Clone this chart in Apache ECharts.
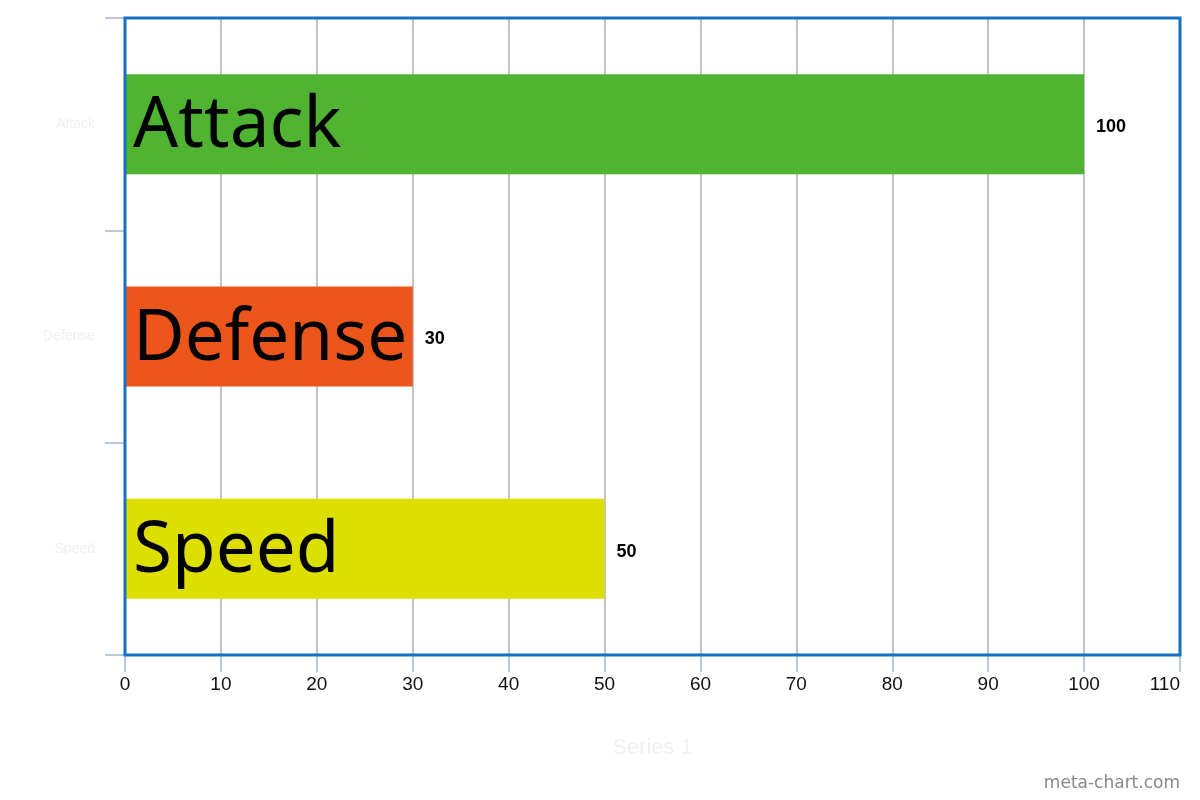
<!DOCTYPE html>
<html>
<head>
<meta charset="utf-8">
<script src="https://cdn.jsdelivr.net/npm/echarts@6/dist/echarts.min.js"></script>
<style>html,body{margin:0;padding:0;background:#fff}#c{width:1200px;height:800px}</style>
</head>
<body>
<div id="c"></div>
<script>
const categories = ['Attack', 'Defense', 'Speed'];
const values = [100, 30, 50];
const barColors = ['#50B432', '#ED561B', '#DDDF00'];
const xTicks = [0, 10, 20, 30, 40, 50, 60, 70, 80, 90, 100, 110];
const axisTitle = 'Series 1';
const watermark = 'meta-chart.com';

const chart = echarts.init(document.getElementById('c'));
chart.setOption({
  animation: false,
  grid: { left: 125, right: 20, top: 18, bottom: 145, show: true, borderColor: '#1670c4', borderWidth: 3, backgroundColor: 'transparent', z: 10 },
  xAxis: {
    type: 'value', min: xTicks[0], max: xTicks[xTicks.length - 1], interval: 10,
    name: axisTitle, nameLocation: 'middle', nameGap: 82,
    nameTextStyle: { color: '#f0f0f0', fontSize: 22, fontFamily: 'Liberation Sans' },
    axisLine: { show: false },
    axisTick: { show: true, length: 17, lineStyle: { color: '#b6c9e0', width: 2 } },
    axisLabel: { color: '#111', fontSize: 19, fontFamily: 'Liberation Sans', margin: 20, alignMaxLabel: 'right' },
    splitLine: { show: true, showMinLine: false, showMaxLine: false, lineStyle: { color: '#c4c4c4', width: 2 } }
  },
  yAxis: {
    type: 'category', data: categories, inverse: true,
    axisLine: { show: false },
    axisTick: { show: true, length: 20, lineStyle: { color: '#b6c9e0', width: 2 } },
    axisLabel: { color: '#f0f0f0', fontSize: 14, fontFamily: 'Liberation Sans', margin: 30 },
    splitLine: { show: false }
  },
  series: [
    {
      type: 'bar', barWidth: 100, z: 2,
      data: values.map((v, i) => ({ value: v, itemStyle: { color: barColors[i] } })),
      label: { show: true, position: 'right', distance: 12, offset: [0, 3], color: '#000', fontWeight: 'bold', fontSize: 18, fontFamily: 'Liberation Sans' }
    },
    {
      type: 'bar', barWidth: 100, barGap: '-100%', z: 5,
      data: values.map((v, i) => ({ value: v, name: categories[i] })),
      itemStyle: { color: 'rgba(0,0,0,0)' },
      label: { show: true, position: 'insideLeft', distance: 8, offset: [0, 3], formatter: p => p.name, color: '#000', fontSize: 71, fontFamily: 'Noto Sans' }
    }
  ],
  graphic: [{
    type: 'text', right: 20, bottom: 8,
    style: { text: watermark, fill: '#888', fontSize: 17, fontFamily: 'DejaVu Sans' }
  }]
});
</script>
</body>
</html>
